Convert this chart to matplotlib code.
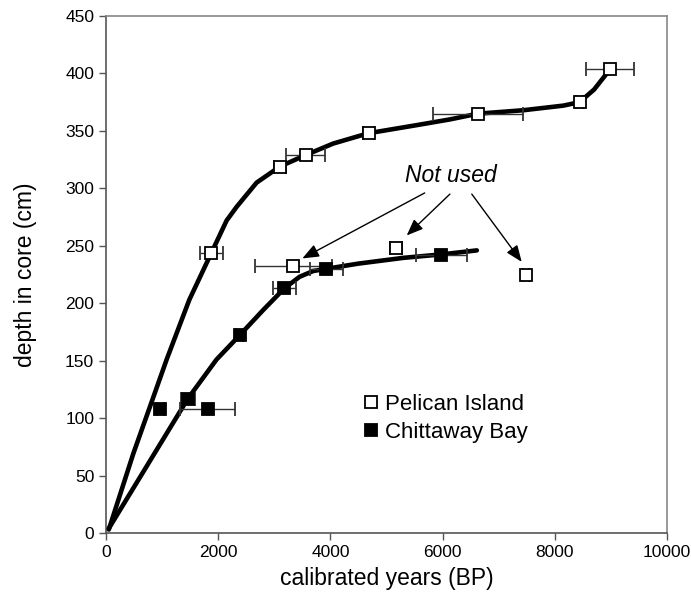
import matplotlib
matplotlib.use('Agg')
from matplotlib import pyplot as plt
from matplotlib.lines import Line2D

plt.rcParams['font.family'] = ['Liberation Sans', 'DejaVu Sans']

# Pelican Island dates used in the age model
pelicanYears = [1880, 3100, 3560, 4680, 6630, 8440, 8990]
pelicanDepth = [244, 319, 329, 348, 365, 375, 404]
pelicanErr = [200, 100, 350, 100, 800, 60, 430]

# Pelican Island dates that were not used
unusedYears = [3340, 5170, 7490]
unusedDepth = [232, 248, 225]
unusedErr = [690, 100, 50]

# Chittaway Bay dates
chittYears = [970, 1460, 1810, 2380, 3180, 3930, 5980]
chittDepth = [108, 117, 108, 172, 213, 230, 242]
chittErr = [60, 120, 490, 60, 210, 295, 450]

# hand-drawn age model curves
pelicanCurveX = [50, 486, 784, 1081, 1485, 1880, 2150, 2330, 2685, 3100, 3560, 4050,
                 4680, 5535, 6130, 6630, 7440, 8150, 8440, 8700, 8990]
pelicanCurveY = [3, 69, 110, 151, 203, 244, 272, 284, 305, 319, 329, 339,
                 348, 355, 360, 365, 368, 372, 375, 386, 404]
chittCurveX = [50, 1460, 1970, 2380, 2800, 3180, 3450, 3690, 3930, 4500, 5300, 5980, 6610]
chittCurveY = [4, 117, 151, 172, 194, 213, 223, 228, 230, 234.5, 239.5, 242.5, 246]

# arrows from the "Not used" label
arrowStarts = [(5680, 296), (6130, 295), (6520, 295)]
arrowTips = [(3500, 239), (5360, 259), (7410, 236)]

fig = plt.figure(figsize=(6.91, 5.98), dpi=100)
ax = fig.add_axes([0.1534, 0.1087, 0.8119, 0.8645])

ax.plot(pelicanCurveX, pelicanCurveY, color='black', lw=3.3, solid_joinstyle='round',
        solid_capstyle='round', zorder=3)
ax.plot(chittCurveX, chittCurveY, color='black', lw=3.3, solid_joinstyle='round',
        solid_capstyle='round', zorder=3)

errStyle = dict(fmt='s', ms=8, ecolor='#333333', elinewidth=1, capsize=5, capthick=1,
                mec='black', mew=1.3, zorder=4)
ax.errorbar(pelicanYears, pelicanDepth, xerr=pelicanErr, mfc='white', **errStyle)
ax.errorbar(unusedYears, unusedDepth, xerr=unusedErr, mfc='white', **errStyle)
ax.errorbar(chittYears, chittDepth, xerr=chittErr, mfc='black', **errStyle)

for start, tip in zip(arrowStarts, arrowTips):
    ax.annotate('', xy=tip, xytext=start,
                arrowprops=dict(arrowstyle='-|>,head_length=1.0,head_width=0.4',
                                mutation_scale=10, color='black', lw=1.0,
                                shrinkA=0, shrinkB=0))
ax.text(6140, 311, 'Not used', fontsize=16.5, style='italic', ha='center', va='center')

handles = [Line2D([], [], ls='none', marker='s', ms=8, mfc='white', mec='black', mew=1.3),
           Line2D([], [], ls='none', marker='s', ms=8, mfc='black', mec='black', mew=1.3)]
ax.legend(handles, ['Pelican Island', 'Chittaway Bay'], loc='upper left',
          bbox_to_anchor=(0.44, 0.29), frameon=False, fontsize=16,
          handlelength=0.6, handletextpad=0.35, labelspacing=0.3, borderpad=0)

ax.set_xlim(0, 10000)
ax.set_ylim(0, 450)
ax.set_xticks(range(0, 10001, 2000))
ax.set_yticks(range(0, 451, 50))
ax.tick_params(labelsize=12.5, length=5, width=1, color='#555555', direction='out')
for side in ['left', 'bottom']:
    ax.spines[side].set_color('#555555')
for side in ['top', 'right']:
    ax.spines[side].set_color('#888888')
for side in ax.spines:
    ax.spines[side].set_linewidth(1.2)

ax.set_xlabel('calibrated years (BP)', fontsize=16.5, labelpad=5)
ax.set_ylabel('depth in core (cm)', fontsize=16.5, labelpad=20)

fig.savefig('out.png', dpi=100)
